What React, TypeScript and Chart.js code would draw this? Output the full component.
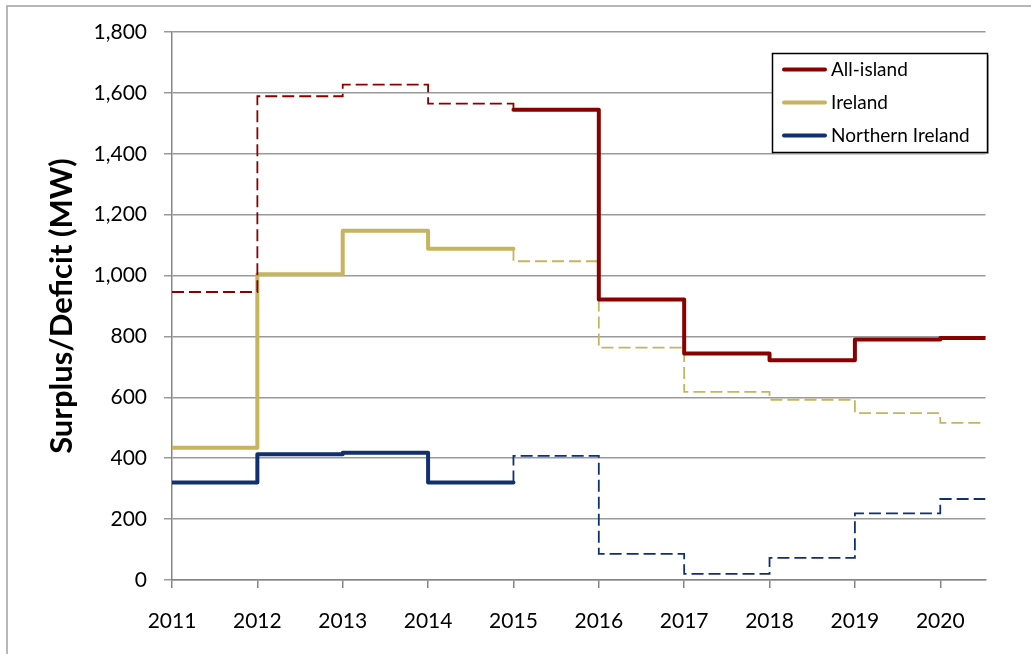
import React, { useEffect, useRef } from 'react';
import { Chart, registerables } from 'chart.js';

Chart.register(...registerables);

// ---- Data ----
const years = [2011, 2012, 2013, 2014, 2015, 2016, 2017, 2018, 2019, 2020];
const xAxisEnd = 2020.53;
const allIsland = [946, 1589, 1627, 1565, 1545, 921, 744, 722, 790, 795];
const ireland = [434, 1004, 1147, 1088, 1047, 763, 618, 592, 548, 516];
const northernIreland = [320, 413, 418, 320, 408, 86, 20, 73, 219, 266];
const yTickValues = [0, 200, 400, 600, 800, 1000, 1200, 1400, 1600, 1800];
const seriesNames = ['All-island', 'Ireland', 'Northern Ireland'];
const seriesColors = ['#880000', '#C6B45E', '#10306F'];
const splitIndex = 4; // boundary between the actual and projected periods (2015)

type Pt = { x: number; y: number };

function stepPoints(vals: number[], from: number, to: number, lead = false, tail = false): Pt[] {
  const pts: Pt[] = [];
  if (lead && from > 0) pts.push({ x: years[from], y: vals[from - 1] });
  for (let i = from; i < to; i++) {
    const x0 = years[i];
    const x1 = i + 1 < years.length ? years[i + 1] : xAxisEnd;
    pts.push({ x: x0, y: vals[i] }, { x: x1, y: vals[i] });
  }
  if (tail && to < vals.length) pts.push({ x: years[to], y: vals[to] });
  return pts;
}

const FONT = 'Lato';

function solid(label: string, color: string, data: Pt[]) {
  return {
    label,
    data,
    borderColor: color,
    backgroundColor: color,
    borderWidth: 4,
    borderCapStyle: 'round' as const,
    borderJoinStyle: 'round' as const,
    pointRadius: 0,
    fill: false,
  };
}
function dashed(label: string, color: string, data: Pt[]) {
  return {
    label,
    data,
    borderColor: color,
    backgroundColor: color,
    borderWidth: 1.8,
    borderDash: [12, 5],
    borderCapStyle: 'butt' as const,
    pointRadius: 0,
    fill: false,
  };
}

const frameAndLegend = {
  id: 'frameAndLegend',
  beforeDraw(chart: any) {
    const { ctx } = chart;
    ctx.save();
    ctx.fillStyle = '#ffffff';
    ctx.fillRect(0, 0, chart.width, chart.height);
    ctx.strokeStyle = '#a0a0a0';
    ctx.lineWidth = 1.5;
    ctx.strokeRect(7, 6, chart.width + 20, chart.height + 20);
    ctx.restore();
  },
  afterDraw(chart: any) {
    const { ctx, chartArea } = chart;
    const w = 215;
    const h = 99;
    const x = Math.round(chartArea.right - 213.5);
    const y = Math.round(chartArea.top + 20.5);
    ctx.save();
    // shadow
    ctx.fillStyle = '#b8b8b8';
    ctx.fillRect(x + 2, y + 2, w, h);
    ctx.fillStyle = '#ffffff';
    ctx.fillRect(x, y, w, h);
    ctx.strokeStyle = '#000000';
    ctx.lineWidth = 1.5;
    ctx.strokeRect(x + 0.5, y + 0.5, w, h);
    ctx.font = `19px ${FONT}`;
    ctx.textBaseline = 'middle';
    ctx.textAlign = 'left';
    seriesNames.forEach((name, i) => {
      const ly = y + 16.5 + i * 33;
      ctx.strokeStyle = seriesColors[i];
      ctx.lineWidth = 4;
      ctx.lineCap = 'round';
      ctx.beginPath();
      ctx.moveTo(x + 12, ly);
      ctx.lineTo(x + 53, ly);
      ctx.stroke();
      ctx.fillStyle = '#000000';
      ctx.fillText(name, x + 59, ly);
    });
    ctx.restore();
  },
};

export default function App() {
  const ref = useRef<HTMLCanvasElement | null>(null);

  useEffect(() => {
    document.body.style.margin = '0';
    const canvas = ref.current;
    if (!canvas) return;

    const datasets = [
      solid(seriesNames[0], seriesColors[0], stepPoints(allIsland, splitIndex, allIsland.length)),
      dashed(seriesNames[0] + ' (projected)', seriesColors[0], stepPoints(allIsland, 0, splitIndex, false, true)),
      solid(seriesNames[1], seriesColors[1], stepPoints(ireland, 0, splitIndex)),
      dashed(seriesNames[1] + ' (projected)', seriesColors[1], stepPoints(ireland, splitIndex, ireland.length, true)),
      solid(seriesNames[2], seriesColors[2], stepPoints(northernIreland, 0, splitIndex)),
      dashed(seriesNames[2] + ' (projected)', seriesColors[2], stepPoints(northernIreland, splitIndex, northernIreland.length, true)),
    ];

    const chart = new Chart(canvas, {
      type: 'line',
      data: { datasets: datasets as any },
      plugins: [frameAndLegend],
      options: {
        animation: false,
        responsive: false,
        maintainAspectRatio: false,
        layout: { padding: { left: 0, top: 32, right: 45.5, bottom: 0 } },
        plugins: {
          legend: { display: false },
          tooltip: { enabled: false },
        },
        elements: { point: { radius: 0 }, line: { tension: 0 } },
        scales: {
          x: {
            type: 'linear',
            min: years[0],
            max: xAxisEnd,
            afterBuildTicks: (s: any) => {
              s.ticks = years.map((v) => ({ value: v }));
            },
            afterFit: (s: any) => {
              s.height = 74;
            },
            ticks: {
              autoSkip: false,
              maxRotation: 0,
              color: '#000000',
              padding: 21,
              font: { family: FONT, size: 21 },
              callback: (v: any) => String(v),
            },
            grid: {
              drawOnChartArea: false,
              color: '#868686',
              lineWidth: 1.5,
              tickLength: 8,
            },
            border: { color: '#868686', width: 1.5 },
          },
          y: {
            type: 'linear',
            min: 0,
            max: 1800,
            afterBuildTicks: (s: any) => {
              s.ticks = yTickValues.map((v) => ({ value: v }));
            },
            afterFit: (s: any) => {
              s.width = 172;
            },
            ticks: {
              color: '#000000',
              padding: 17,
              font: { family: FONT, size: 21 },
              callback: (v: any) => Number(v).toLocaleString('en-US'),
            },
            grid: {
              color: '#9a9a9a',
              lineWidth: 1.5,
              tickLength: 8,
            },
            border: { color: '#868686', width: 1.5 },
            title: {
              display: true,
              text: 'Surplus/Deficit (MW)',
              color: '#000000',
              font: { family: FONT, size: 31, weight: 'bold' },
              padding: { top: 43, bottom: 0 },
            },
          },
        },
      } as any,
    });

    return () => chart.destroy();
  }, []);

  return (
    <div style={{ position: 'absolute', left: 0, top: 0, width: 1031, height: 654 }}>
      <canvas ref={ref} width={1031} height={654} style={{ display: 'block' }} />
    </div>
  );
}
